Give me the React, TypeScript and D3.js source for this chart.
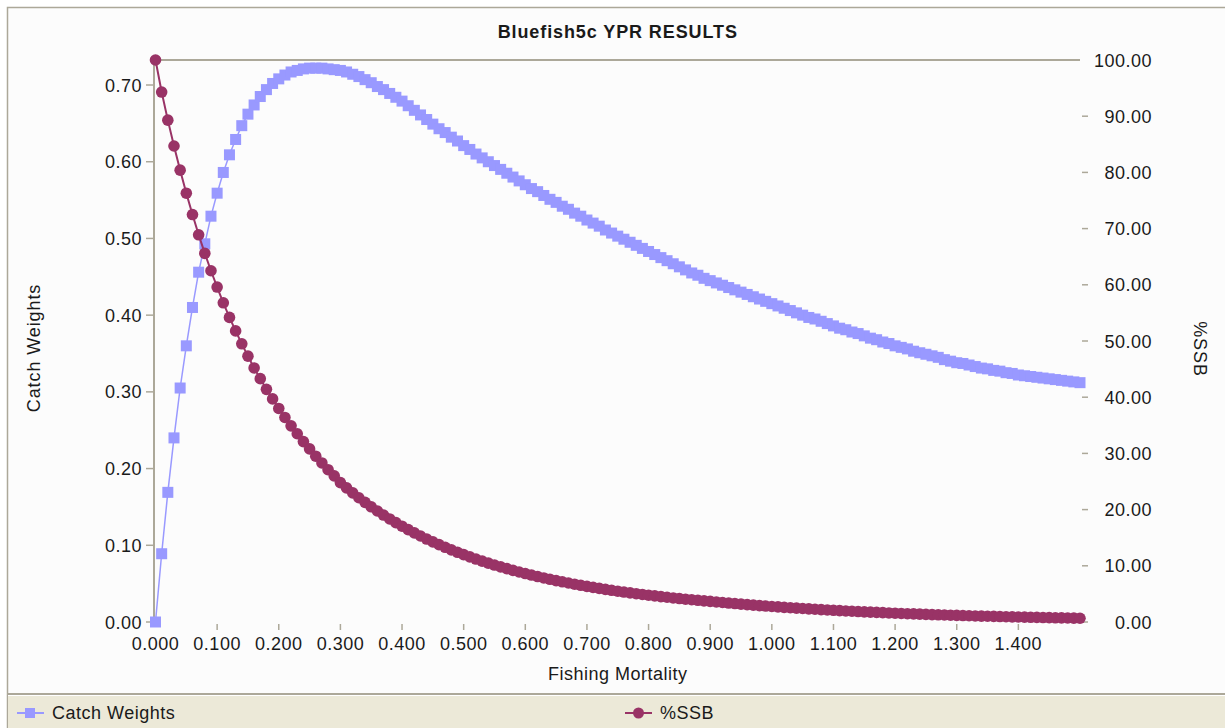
import React from "react";
import * as d3 from "d3";

const fishingMortality = [
  0.0, 0.01, 0.02, 0.03, 0.04, 0.05, 0.06, 0.07, 0.08, 0.09,
  0.1, 0.11, 0.12, 0.13, 0.14, 0.15, 0.16, 0.17, 0.18, 0.19,
  0.2, 0.21, 0.22, 0.23, 0.24, 0.25, 0.26, 0.27, 0.28, 0.29,
  0.3, 0.31, 0.32, 0.33, 0.34, 0.35, 0.36, 0.37, 0.38, 0.39,
  0.4, 0.41, 0.42, 0.43, 0.44, 0.45, 0.46, 0.47, 0.48, 0.49,
  0.5, 0.51, 0.52, 0.53, 0.54, 0.55, 0.56, 0.57, 0.58, 0.59,
  0.6, 0.61, 0.62, 0.63, 0.64, 0.65, 0.66, 0.67, 0.68, 0.69,
  0.7, 0.71, 0.72, 0.73, 0.74, 0.75, 0.76, 0.77, 0.78, 0.79,
  0.8, 0.81, 0.82, 0.83, 0.84, 0.85, 0.86, 0.87, 0.88, 0.89,
  0.9, 0.91, 0.92, 0.93, 0.94, 0.95, 0.96, 0.97, 0.98, 0.99,
  1.0, 1.01, 1.02, 1.03, 1.04, 1.05, 1.06, 1.07, 1.08, 1.09,
  1.1, 1.11, 1.12, 1.13, 1.14, 1.15, 1.16, 1.17, 1.18, 1.19,
  1.2, 1.21, 1.22, 1.23, 1.24, 1.25, 1.26, 1.27, 1.28, 1.29,
  1.3, 1.31, 1.32, 1.33, 1.34, 1.35, 1.36, 1.37, 1.38, 1.39,
  1.4, 1.41, 1.42, 1.43, 1.44, 1.45, 1.46, 1.47, 1.48, 1.49,
  1.5,
];

const catchWeights = [
  0, 0.089, 0.169, 0.24, 0.305, 0.36, 0.41, 0.456, 0.493, 0.529,
  0.559, 0.586, 0.609, 0.629, 0.647, 0.662, 0.674, 0.685, 0.694, 0.702,
  0.708, 0.713, 0.717, 0.719, 0.721, 0.722, 0.722, 0.722, 0.721, 0.72,
  0.719, 0.717, 0.714, 0.711, 0.707, 0.703, 0.698, 0.694, 0.689, 0.684,
  0.679, 0.673, 0.667, 0.661, 0.655, 0.649, 0.643, 0.638, 0.632, 0.627,
  0.621, 0.616, 0.61, 0.605, 0.6, 0.595, 0.59, 0.585, 0.58, 0.575,
  0.57, 0.565, 0.561, 0.556, 0.551, 0.547, 0.542, 0.538, 0.533, 0.529,
  0.524, 0.52, 0.516, 0.511, 0.507, 0.503, 0.499, 0.495, 0.491, 0.487,
  0.483, 0.479, 0.475, 0.471, 0.467, 0.463, 0.459, 0.455, 0.452, 0.448,
  0.445, 0.442, 0.439, 0.436, 0.433, 0.43, 0.427, 0.424, 0.421, 0.418,
  0.415, 0.412, 0.409, 0.406, 0.403, 0.4, 0.397, 0.395, 0.392, 0.389,
  0.386, 0.383, 0.381, 0.378, 0.376, 0.373, 0.37, 0.368, 0.365, 0.363,
  0.36, 0.358, 0.356, 0.353, 0.351, 0.349, 0.347, 0.345, 0.342, 0.34,
  0.338, 0.337, 0.335, 0.333, 0.331, 0.33, 0.328, 0.327, 0.325, 0.324,
  0.322, 0.321, 0.32, 0.319, 0.318, 0.317, 0.316, 0.315, 0.314, 0.313,
  0.312,
];

const pctSSB = [
  100, 94.3, 89.3, 84.7, 80.4, 76.3, 72.5, 68.9, 65.6, 62.5,
  59.6, 56.8, 54.2, 51.8, 49.5, 47.3, 45.2, 43.3, 41.4, 39.7,
  38.0, 36.4, 34.9, 33.5, 32.1, 30.8, 29.5, 28.3, 27.1, 26.0,
  24.8, 23.86, 22.97, 22.11, 21.29, 20.5, 19.75, 19.03, 18.34, 17.68,
  17.05, 16.44, 15.86, 15.3, 14.76, 14.25, 13.76, 13.29, 12.84, 12.4,
  11.98, 11.58, 11.2, 10.83, 10.47, 10.13, 9.8, 9.49, 9.19, 8.9,
  8.62, 8.35, 8.09, 7.84, 7.6, 7.37, 7.15, 6.94, 6.73, 6.53,
  6.34, 6.16, 5.98, 5.81, 5.64, 5.48, 5.33, 5.18, 5.04, 4.9,
  4.77, 4.64, 4.52, 4.4, 4.28, 4.17, 4.06, 3.96, 3.86, 3.76,
  3.67, 3.57, 3.47, 3.37, 3.28, 3.18, 3.1, 3.01, 2.92, 2.84,
  2.76, 2.69, 2.61, 2.54, 2.47, 2.4, 2.33, 2.27, 2.2, 2.14,
  2.08, 2.02, 1.97, 1.91, 1.86, 1.81, 1.75, 1.71, 1.66, 1.61,
  1.57, 1.52, 1.48, 1.44, 1.4, 1.36, 1.32, 1.28, 1.25, 1.21,
  1.18, 1.15, 1.11, 1.08, 1.05, 1.02, 1.0, 0.97, 0.94, 0.91,
  0.89, 0.86, 0.84, 0.82, 0.79, 0.77, 0.75, 0.73, 0.71, 0.69,
  0.67,
];

const xTicks = [0.1, 0.2, 0.3, 0.4, 0.5, 0.6, 0.7, 0.8, 0.9, 1.0, 1.1, 1.2, 1.3, 1.4];
const xTickLabels = ["0.000", "0.100", "0.200", "0.300", "0.400", "0.500", "0.600", "0.700", "0.800", "0.900", "1.000", "1.100", "1.200", "1.300", "1.400"];
const xLabelValues = [0, 0.1, 0.2, 0.3, 0.4, 0.5, 0.6, 0.7, 0.8, 0.9, 1.0, 1.1, 1.2, 1.3, 1.4];
const leftTicks = [0, 0.1, 0.2, 0.3, 0.4, 0.5, 0.6, 0.7];
const leftTickLabels = ["0.00", "0.10", "0.20", "0.30", "0.40", "0.50", "0.60", "0.70"];
const rightTicks = [0, 10, 20, 30, 40, 50, 60, 70, 80, 90, 100];
const rightTickLabels = ["0.00", "10.00", "20.00", "30.00", "40.00", "50.00", "60.00", "70.00", "80.00", "90.00", "100.00"];

const title = "Bluefish5c YPR RESULTS";
const xTitle = "Fishing Mortality";
const leftTitle = "Catch Weights";
const rightTitle = "%SSB";

const W = 1225;
const H = 728;
const PL = 155.5;
const PR = 1080;
const PT = 60;
const PB = 622;

const CATCH_COLOR = "#9999ff";
const SSB_COLOR = "#993366";
const AXIS_COLOR = "#aca899";
const TEXT_COLOR = "#1a1a1a";
const FONT = "'Liberation Sans', Arial, sans-serif";

export default function App() {
  const x = d3.scaleLinear().domain([0, 1.5]).range([PL, PR]);
  const yL = d3.scaleLinear().domain([0, 0.7326]).range([PB, PT]);
  const yR = d3.scaleLinear().domain([0, 100]).range([PB, PT]);

  const catchPts = fishingMortality.map((f, i) => [x(f), yL(catchWeights[i])] as [number, number]);
  const ssbPts = fishingMortality.map((f, i) => [x(f), yR(pctSSB[i])] as [number, number]);
  const line = d3.line();

  const fontBase = { fontFamily: FONT, fontSize: 18, fill: TEXT_COLOR, letterSpacing: 0.5 } as const;
  const SQ = 11;

  return (
    <svg
      width={W}
      height={H}
      style={{ position: "absolute", left: 0, top: 0, display: "block" }}
    >
      <rect x={0} y={0} width={W} height={H} fill="#ffffff" />
      <rect x={7.5} y={7.5} width={W} height={H} fill="#fcfcfc" stroke={AXIS_COLOR} strokeWidth={1.5} />
      {/* legend strip */}
      <rect x={8} y={694} width={W} height={H - 694} fill="#ece9d8" />
      <line x1={8} x2={W} y1={694} y2={694} stroke={AXIS_COLOR} strokeWidth={2} />
      <line x1={8} x2={W} y1={695.5} y2={695.5} stroke="#ffffff" strokeWidth={1} />

      {/* title */}
      <text x={(PL + PR) / 2} y={37.5} textAnchor="middle" style={{ ...fontBase, fontWeight: "bold", letterSpacing: 0.9 }}>
        {title}
      </text>

      {/* axes frame */}
      <line x1={154} x2={154} y1={PT} y2={PB + 1} stroke={AXIS_COLOR} strokeWidth={2} />
      <line x1={153} x2={PR} y1={PT} y2={PT} stroke={AXIS_COLOR} strokeWidth={2} />

      {/* left ticks */}
      {leftTicks.map((t, i) => (
        <g key={"lt" + i}>
          <line x1={146} x2={153} y1={yL(t)} y2={yL(t)} stroke={AXIS_COLOR} strokeWidth={1.5} />
          <text x={142} y={yL(t) + 6.5} textAnchor="end" style={fontBase}>
            {leftTickLabels[i]}
          </text>
        </g>
      ))}

      {/* right ticks */}
      {rightTicks.map((t, i) => (
        <g key={"rt" + i}>
          {t < 100 && (
            <line x1={1082} x2={1088} y1={yR(t)} y2={yR(t)} stroke={AXIS_COLOR} strokeWidth={1.5} />
          )}
          <text x={1152} y={yR(t) + 6.5} textAnchor="end" style={fontBase}>
            {rightTickLabels[i]}
          </text>
        </g>
      ))}

      {/* x ticks */}
      {xTicks.map((t, i) => (
        <line key={"xt" + i} x1={x(t)} x2={x(t)} y1={624} y2={630} stroke={AXIS_COLOR} strokeWidth={1.5} />
      ))}
      {xLabelValues.map((t, i) => (
        <text key={"xl" + i} x={x(t)} y={650} textAnchor="middle" style={fontBase}>
          {xTickLabels[i]}
        </text>
      ))}

      {/* axis titles */}
      <text x={(PL + PR) / 2} y={680} textAnchor="middle" style={fontBase}>
        {xTitle}
      </text>
      <text
        transform={`translate(39.5, 348) rotate(-90)`}
        textAnchor="middle"
        style={{ ...fontBase, letterSpacing: 0.9 }}
      >
        {leftTitle}
      </text>
      <text
        transform={`translate(1194, 349) rotate(90)`}
        textAnchor="middle"
        style={{ ...fontBase, letterSpacing: 0.9 }}
      >
        {rightTitle}
      </text>

      {/* catch weights series */}
      <path d={line(catchPts) || ""} fill="none" stroke={CATCH_COLOR} strokeWidth={1.5} />
      {catchPts.map((p, i) => (
        <rect key={"cw" + i} x={p[0] - SQ / 2} y={p[1] - SQ / 2} width={SQ} height={SQ} fill={CATCH_COLOR} />
      ))}

      {/* %SSB series */}
      <path d={line(ssbPts) || ""} fill="none" stroke={SSB_COLOR} strokeWidth={2} />
      {ssbPts.map((p, i) => (
        <circle key={"ss" + i} cx={p[0]} cy={p[1]} r={5.8} fill={SSB_COLOR} />
      ))}

      {/* legend */}
      <line x1={17} x2={44} y1={713} y2={713} stroke={CATCH_COLOR} strokeWidth={2} />
      <rect x={25} y={708} width={10} height={10} fill={CATCH_COLOR} />
      <text x={52} y={719} style={fontBase}>{leftTitle}</text>
      <line x1={625} x2={652} y1={713} y2={713} stroke={SSB_COLOR} strokeWidth={2} />
      <circle cx={638.5} cy={713} r={5.5} fill={SSB_COLOR} />
      <text x={660} y={719} style={fontBase}>{rightTitle}</text>
    </svg>
  );
}
